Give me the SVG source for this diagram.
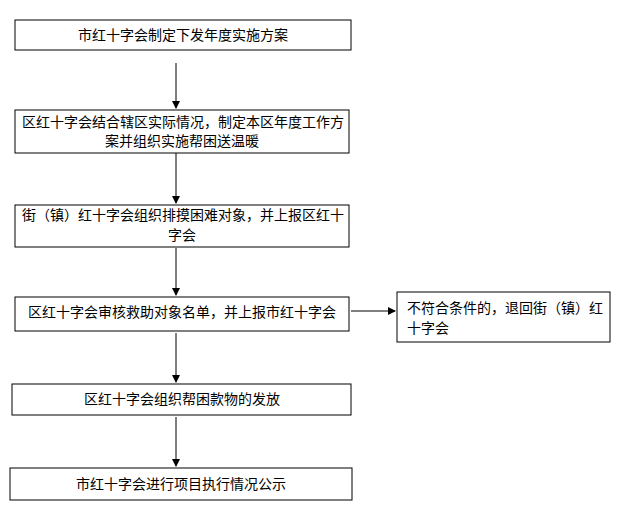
<svg xmlns="http://www.w3.org/2000/svg" width="622" height="510" viewBox="0 0 622 510">
<style>
rect{fill:#fff;stroke:#000;stroke-width:1}
text{font-family:"Noto Sans CJK SC","Liberation Serif",serif;font-size:14px;fill:#000}
.c{text-anchor:middle}
line{stroke:#000;stroke-width:1}
</style>
<defs><marker id="a" markerWidth="8" markerHeight="8" refX="7" refY="4" orient="auto" markerUnits="userSpaceOnUse"><path d="M0,0L8,4L0,8z" fill="#000"/></marker></defs>
<rect width="622" height="510" style="stroke:none"/>
<g id="n1"><rect x="15" y="20" width="336" height="30"/><text class="c" x="183" y="40">市红十字会制定下发年度实施方案</text></g>
<g id="n2"><rect x="15" y="110" width="334" height="43"/><text x="22" y="127">区红十字会结合辖区实际情况，制定本区年度工作方</text><text class="c" x="182" y="146">案并组织实施帮困送温暖</text></g>
<g id="n3"><rect x="15" y="205" width="334" height="42"/><text x="22" y="220">街（镇）红十字会组织排摸困难对象，并上报区红十</text><text class="c" x="182" y="240">字会</text></g>
<g id="n4"><rect x="15" y="297" width="334" height="34"/><text class="c" x="182" y="317">区红十字会审核救助对象名单，并上报市红十字会</text></g>
<g id="n5"><rect x="397" y="292" width="213" height="50"/><text x="407" y="313">不符合条件的，退回街（镇）红</text><text x="407" y="333">十字会</text></g>
<g id="n6"><rect x="12" y="384" width="339" height="31"/><text class="c" x="182" y="404">区红十字会组织帮困款物的发放</text></g>
<g id="n7"><rect x="10" y="468" width="342" height="32"/><text class="c" x="181" y="489">市红十字会进行项目执行情况公示</text></g>
<g id="edges" marker-end="url(#a)">
<line x1="176" y1="63" x2="176" y2="108"/>
<line x1="176" y1="153" x2="176" y2="203"/>
<line x1="176" y1="248" x2="176" y2="295"/>
<line x1="176" y1="333" x2="176" y2="382"/>
<line x1="176" y1="417" x2="176" y2="466"/>
<line x1="351" y1="311" x2="395" y2="311"/>
</g>
</svg>
